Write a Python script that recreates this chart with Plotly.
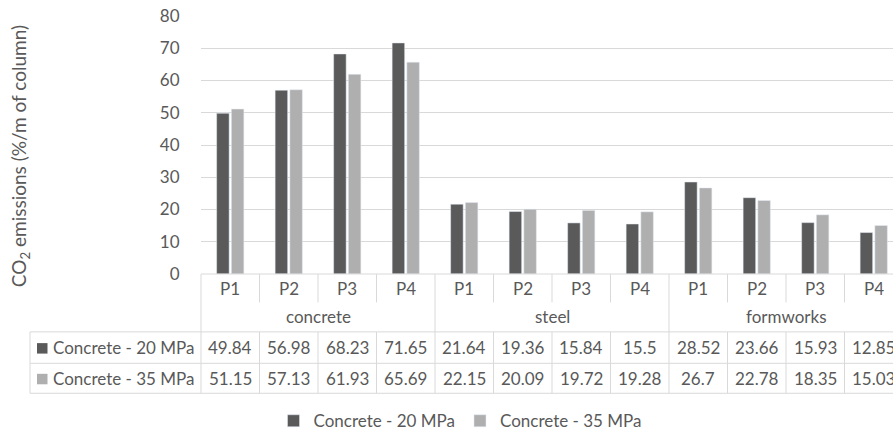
import plotly.graph_objects as go

# ---------------- data ----------------
groups = ["concrete", "steel", "formworks"]
periods = ["P1", "P2", "P3", "P4"]
series_names = ["Concrete - 20 MPa", "Concrete - 35 MPa"]
mpa20 = [49.84, 56.98, 68.23, 71.65, 21.64, 19.36, 15.84, 15.5, 28.52, 23.66, 15.93, 12.85]
mpa35 = [51.15, 57.13, 61.93, 65.69, 22.15, 20.09, 19.72, 19.28, 26.7, 22.78, 18.35, 15.03]
y_ticks = [0, 10, 20, 30, 40, 50, 60, 70, 80]

# ---------------- style / layout constants ----------------
W, H = 893, 432
L, R, T, B = 201, 893, 16, 274.5
CAT_PX = 58.5
X0 = -0.5
X1 = X0 + (R - L) / CAT_PX
DARK = "#5a5a5a"
LIGHT = "#afafaf"
TXT = "#595959"
LINE = "#d9d9d9"
FONT = "Lato"
FS = 17

def px_x(p):
    return (p - L) / (R - L)

def px_y(p):
    return (B - p) / (B - T)

def cat_px(v):
    return L + (v - X0) * CAT_PX

n = len(mpa20)
xs = list(range(n))

fig = go.Figure()
fig.add_trace(go.Bar(x=xs, y=mpa20, name=series_names[0], marker_color=DARK))
fig.add_trace(go.Bar(x=xs, y=mpa35, name=series_names[1], marker_color=LIGHT))

shapes = []
ann = []

def hline(y, xa, xb):
    shapes.append(dict(type="line", xref="paper", yref="paper",
                       x0=px_x(xa), x1=px_x(xb), y0=px_y(y), y1=px_y(y),
                       line=dict(color=LINE, width=1)))

def vline(x, ya, yb):
    shapes.append(dict(type="line", xref="paper", yref="paper",
                       x0=px_x(x), x1=px_x(x), y0=px_y(ya), y1=px_y(yb),
                       line=dict(color=LINE, width=1)))

def text(x, xref, y, s, xanchor="center", size=FS, angle=0):
    ann.append(dict(x=x, xref=xref, y=px_y(y), yref="paper", text=s,
                    showarrow=False, xanchor=xanchor, yanchor="middle",
                    textangle=angle,
                    font=dict(family=FONT, size=size, color=TXT)))

Y_AX = 274.5
Y_MINOR = 303
Y_ROW1 = 332.5
Y_ROW2 = 364
Y_BOT = 394
TAB_L = 30

# axis line / table top
hline(Y_AX, L, R + 5)
# data table horizontal lines
for yy in (Y_ROW1, Y_ROW2, Y_BOT):
    hline(yy, TAB_L, R + 5)
vline(TAB_L, Y_ROW1, Y_BOT)

ng = len(periods)
for i in range(n + 1):
    bx = cat_px(i - 0.5)
    if bx > R + 2:
        continue
    if i % ng == 0:
        vline(bx, Y_AX, Y_BOT)
    else:
        vline(bx, Y_AX, Y_MINOR)
        vline(bx, Y_ROW1, Y_BOT)

# category labels
for i in range(n):
    text(i, "x", 289, periods[i % ng])
for g, name in enumerate(groups):
    text(g * ng + (ng - 1) / 2, "x", 317.5, name)

# data table rows
rows = [(series_names[0], mpa20, DARK, (Y_ROW1 + Y_ROW2) / 2),
        (series_names[1], mpa35, LIGHT, (Y_ROW2 + Y_BOT) / 2)]
for name, vals, col, yc in rows:
    shapes.append(dict(type="rect", xref="paper", yref="paper",
                       x0=px_x(37), x1=px_x(47.5), y0=px_y(yc - 4.5), y1=px_y(yc + 6),
                       fillcolor=col, line=dict(width=0)))
    text(px_x(51), "paper", yc, name, xanchor="left")
    for i, v in enumerate(vals):
        text(i, "x", yc, f"{v:g}")

# y axis title
text(px_x(20), "paper", 156.5, "CO<sub>2</sub> emissions (%/m of column)",
     size=19, angle=-90)

fig.update_layout(
    width=W, height=H,
    margin=dict(l=L, r=W - R, t=T, b=H - B, pad=0, autoexpand=False),
    paper_bgcolor="white", plot_bgcolor="white",
    barmode="group", bargap=0.497, bargroupgap=0.15,
    showlegend=True,
    legend=dict(orientation="h", x=px_x(460), xanchor="center",
                y=px_y(422), yanchor="middle",
                font=dict(family=FONT, size=FS, color=TXT),
                itemwidth=30, traceorder="normal"),
    xaxis=dict(range=[X0, X1], showticklabels=False, showgrid=False,
               zeroline=False, showline=False, ticks=""),
    yaxis=dict(range=[0, 80], tickvals=y_ticks, showgrid=True, gridcolor=LINE,
               gridwidth=1, zeroline=False, showline=False,
               ticks="outside", ticklen=17, tickcolor="rgba(0,0,0,0)",
               tickfont=dict(family=FONT, size=FS, color=TXT)),
    shapes=shapes, annotations=ann,
)

fig.write_html("out.html", config={"displayModeBar": False},
               post_script="document.body.style.margin='0';document.body.style.overflow='hidden';")
